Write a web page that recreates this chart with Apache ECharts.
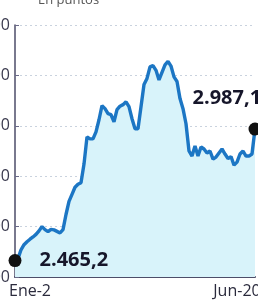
<!DOCTYPE html>
<html>
<head>
<meta charset="utf-8">
<script src="https://cdn.jsdelivr.net/npm/echarts@6/dist/echarts.min.js"></script>
<style>
html,body{margin:0;padding:0;background:#fff;}
#c{width:258px;height:300px;}
</style>
</head>
<body>
<div id="c"></div>
<script>
// Index values (en puntos), Ene-2 .. Jun-20
const values = [
  2465.2, 2473, 2508, 2528, 2540, 2550, 2559, 2569, 2583, 2600,
  2588, 2580, 2589, 2587, 2581, 2575, 2588, 2648, 2700, 2728,
  2756, 2768, 2774, 2848, 2956, 2948, 2948, 2976, 3024, 3080,
  3068, 3048, 3044, 3016, 3064, 3078, 3084, 3095, 3076, 3028,
  2988, 2988, 3076, 3164, 3188, 3234, 3239, 3220, 3182, 3212,
  3242, 3256, 3237, 3194, 3176, 3108, 3068, 3008, 2900, 2880,
  2920, 2880, 2916, 2908, 2892, 2900, 2868, 2876, 2892, 2908,
  2888, 2870, 2878, 2844, 2856, 2888, 2900, 2880, 2880, 2888,
  2987.1
];
const categories = values.map((_, i) => String(i));
const xTickLabels = {5: 'Ene-2', 74: 'Jun-20'};
const yTicks = [2400, 2600, 2800, 3000, 3200, 3400];
const startLabel = '2.465,2';
const endLabel = '2.987,1';
const unitText = 'En puntos';

const fmt = v => {
  const s = String(Math.round(v));
  return s.length > 3 ? s.slice(0, s.length - 3) + '.' + s.slice(-3) : s;
};

const chart = echarts.init(document.getElementById('c'), null, {renderer: 'canvas'});
const last = values.length - 1;
const seriesData = values.map((v, i) => {
  if (i === 0) {
    return {value: v, symbol: 'circle', symbolSize: 13, label: {show: true, formatter: startLabel, position: 'right', distance: 18}};
  }
  if (i === last) {
    return {value: v, symbol: 'circle', symbolSize: 13, label: {show: true, formatter: endLabel, position: [-56, -34], align: 'left', verticalAlign: 'top', overflow: 'none', width: 100}};
  }
  return {value: v, symbol: 'none', symbolSize: 0};
});

chart.setOption({
  animation: false,
  grid: {left: 15, right: 3, top: 25, bottom: 23, containLabel: false, outerBoundsMode: 'none'},
  graphic: [{
    type: 'text', left: 38, top: -6,
    style: {text: unitText, fontFamily: 'Open Sans', fontSize: 13, fill: '#555'}
  }],
  xAxis: {
    type: 'category',
    data: categories,
    boundaryGap: false,
    axisLine: {lineStyle: {color: '#4d4d68', width: 2}},
    axisTick: {show: false},
    axisLabel: {
      interval: (i) => xTickLabels[i] !== undefined,
      formatter: (v, i) => xTickLabels[i] || '',
      fontFamily: 'Open Sans', fontSize: 16, color: '#2a2a3c', margin: 6,
      hideOverlap: false
    },
    splitLine: {show: false}
  },
  yAxis: {
    type: 'value',
    min: yTicks[0], max: yTicks[yTicks.length - 1], interval: 200,
    axisLine: {show: true, lineStyle: {color: '#4d4d68', width: 1.5}},
    axisTick: {show: true, inside: true, length: 4, lineStyle: {color: '#6a6a88'}},
    axisLabel: {formatter: fmt, fontFamily: 'Open Sans', fontSize: 16, color: '#3a3a4e', margin: 5},
    splitLine: {show: true, lineStyle: {color: '#c9d2de', type: [2, 3], width: 1}}
  },
  series: [{
    type: 'line',
    data: seriesData,
    showSymbol: true,
    showAllSymbol: true,
    clip: false,
    itemStyle: {color: '#111'},
    lineStyle: {color: '#1c76c4', width: 3.4},
    areaStyle: {color: '#d8f3fa', opacity: 1},
    label: {fontFamily: 'Open Sans', fontWeight: 'bold', fontSize: 20, color: '#16162a'},
    labelLayout: {hideOverlap: false},
    z: 3
  }]
});
</script>
</body>
</html>
